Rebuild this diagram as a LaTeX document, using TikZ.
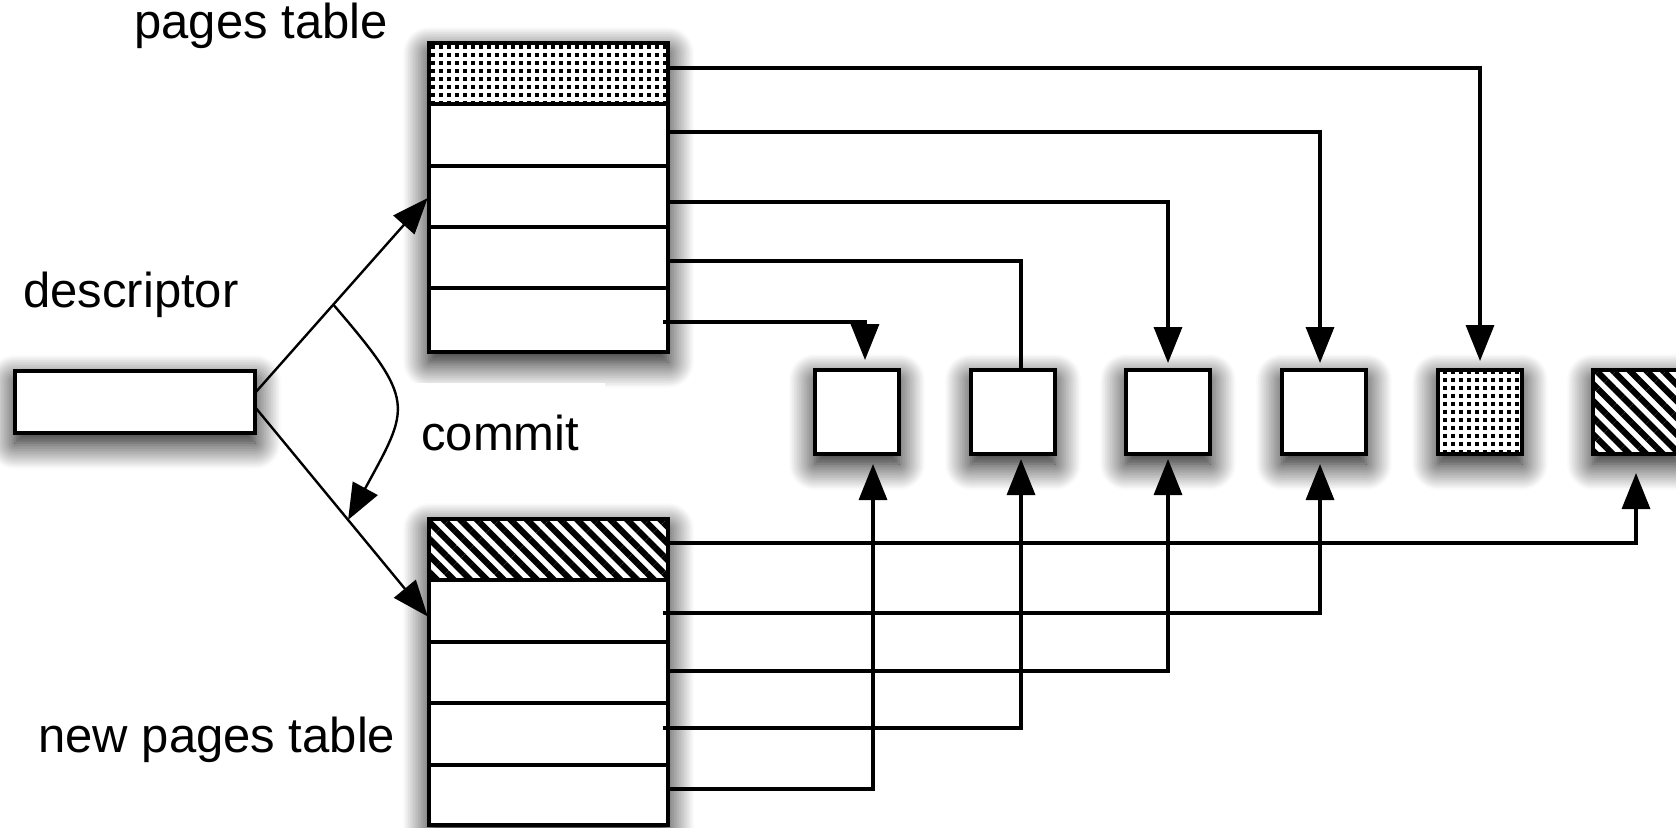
\documentclass[tikz,border=0pt]{standalone}
\usepackage{fontspec}
\setmainfont{Liberation Sans}
\usetikzlibrary{arrows.meta,calc,patterns,patterns.meta,shadows.blur}

% square dot screen used for the original header page
\pgfdeclarepatternformonly{sqdots}{\pgfqpoint{0pt}{0pt}}{\pgfqpoint{4.15pt}{4.15pt}}{\pgfqpoint{4.15pt}{4.15pt}}{%
  \pgfpathrectangle{\pgfqpoint{0pt}{0pt}}{\pgfqpoint{2.1pt}{2.1pt}}\pgfusepath{fill}}

\tikzset{
  boxstyle/.style={draw, line width=1.8pt, fill=white, inner sep=0pt, outer sep=0pt},
  shadowed/.style={blur shadow={shadow xshift=0pt, shadow yshift=-5pt,
      shadow blur radius=13pt, shadow blur steps=16, shadow opacity=100}},
  tabcell/.style={draw, line width=1.8pt, inner sep=0pt, outer sep=0pt, minimum width=119.5pt},
  dotfill/.style={fill=white, postaction={pattern=sqdots}},
  hatchfill/.style={fill=white, postaction={pattern={Lines[angle=-45,distance=5.9pt,line width=3.1pt]}}},
  pagebox/.style={boxstyle, shadowed, minimum width=42pt, minimum height=42pt},
  ptrline/.style={line width=1.7pt},
  thinline/.style={line width=1.2pt},
  headed/.style={-{Triangle[length=18pt,width=14pt]}},
  caption/.style={font=\fontsize{24.5}{29}\selectfont, inner sep=0pt, anchor=base west},
}

\begin{document}
\begin{tikzpicture}[x=0.5pt,y=-0.5pt]
\useasboundingbox (0,0) rectangle (1676,827);

% descriptor
\node[boxstyle, shadowed, minimum width=120pt, minimum height=31pt] (desc) at (135,402) {};

% pages table
\node[boxstyle, shadowed, minimum width=119.5pt, minimum height=154.5pt] (pt) at (548.5,197.5) {};
\node[tabcell, dotfill, minimum height=30.5pt] (pt0) at (548.5,73.5) {};
\node[tabcell, minimum height=31pt]   (pt1) at (548.5,135) {};
\node[tabcell, minimum height=30.5pt] (pt2) at (548.5,196.5) {};
\node[tabcell, minimum height=30.5pt] (pt3) at (548.5,257.5) {};
\node[tabcell, minimum height=32pt]   (pt4) at (548.5,320) {};

% new pages table
\node[boxstyle, shadowed, minimum width=119.5pt, minimum height=153pt] (nt) at (548.5,672) {};
\node[tabcell, hatchfill, minimum height=30.5pt] (nt0) at (548.5,549.5) {};
\node[tabcell, minimum height=31pt]   (nt1) at (548.5,611) {};
\node[tabcell, minimum height=30.5pt] (nt2) at (548.5,672.5) {};
\node[tabcell, minimum height=31pt]   (nt3) at (548.5,734) {};
\node[tabcell, minimum height=30pt]   (nt4) at (548.5,795) {};

% data pages
\node[pagebox] (b1) at (857,412) {};
\node[pagebox] (b2) at (1013,412) {};
\node[pagebox] (b3) at (1168,412) {};
\node[pagebox] (b4) at (1324,412) {};
\node[pagebox, dotfill] (b5) at (1480,412) {};
\node[pagebox, hatchfill, minimum width=43pt] (b6) at (1636,412) {};

% white patch behind the commit label
\node[fill=white, inner sep=0pt, minimum width=101pt, minimum height=49.5pt] (commitbg) at (504,432.5) {};

% labels
\node[caption] (ptlabel)   at (134,38)  {pages table};
\node[caption] (desclabel) at (23,307)  {descriptor};
\node[caption] (commit)    at (421,450) {commit};
\node[caption] (ntlabel)   at (38,752)  {new pages table};

% pointers out of the pages table
\coordinate (t0) at (668,68);
\coordinate (t1) at (668,132);
\coordinate (t2) at (668,202);
\coordinate (t3) at (668,261);
\coordinate (t4) at (663,322);
\draw[ptrline, headed, shorten >=4.5pt] (t0) -| (b5.north);
\draw[ptrline, headed, shorten >=3.5pt] (t1) -| ($(b4.north)+(-4,0)$);
\draw[ptrline, headed, shorten >=3.5pt] (t2) -| (b3.north);
\draw[ptrline] (t3) -| ($(b2.north)+(8,0)$);
\draw[ptrline, headed, shorten >=5pt] (t4) -| ($(b1.north)+(8,0)$);

% pointers out of the new pages table
\coordinate (n0) at (668,543);
\coordinate (n1) at (663,613);
\coordinate (n2) at (668,671);
\coordinate (n3) at (663,728);
\coordinate (n4) at (668,789);
\draw[ptrline, headed, shorten >=9.5pt] (n0) -| (b6.south);
\draw[ptrline, headed, shorten >=5pt]   (n1) -| ($(b4.south)+(-4,0)$);
\draw[ptrline, headed, shorten >=2.5pt] (n2) -| (b3.south);
\draw[ptrline, headed, shorten >=2.5pt] (n3) -| ($(b2.south)+(8,0)$);
\draw[ptrline, headed, shorten >=5pt]   (n4) -| ($(b1.south)+(16,0)$);

% descriptor pointing to both tables
\coordinate (d1) at ($(desc.east)+(0,-9)$);
\coordinate (d2) at ($(desc.east)+(0,5)$);
\coordinate (nt1in) at ($(nt1.west)+(0,7)$);
\draw[thinline, headed, shorten >=1pt] (d1) -- (pt2.west);
\draw[thinline, headed, shorten >=1pt] (d2) -- (nt1in);

% commit swings the pointer from the old table to the new one
\coordinate (cs) at ($(d1)!0.45!(pt2.west)$);
\coordinate (ce) at ($(d2)!0.535!(nt1in)$);
\draw[thinline, headed] (cs) .. controls (417,402) and (410,406) .. (ce);
\end{tikzpicture}
\end{document}
